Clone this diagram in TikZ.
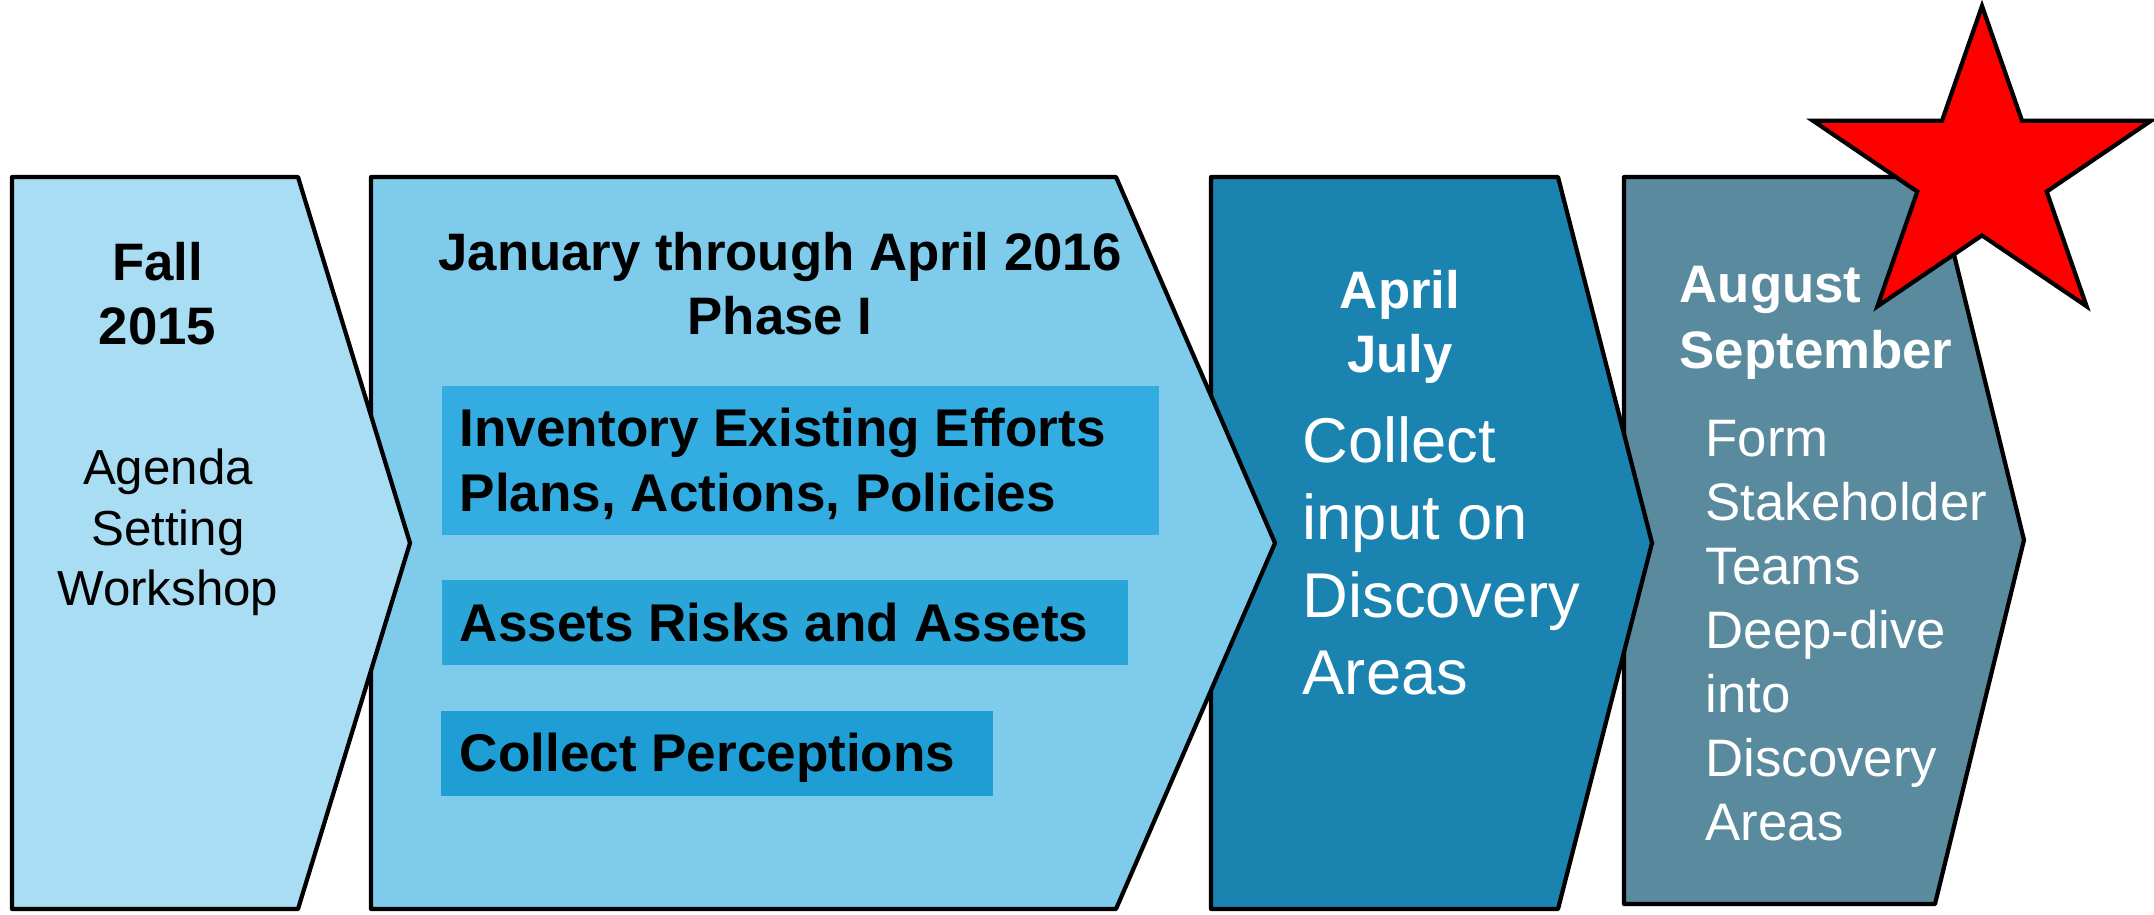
\documentclass[tikz,border=0pt]{standalone}
\usepackage{fontspec}
\setmainfont{Liberation Sans}
\definecolor{stageA}{HTML}{A9DDF3}
\definecolor{stageB}{HTML}{7FCBEC}
\definecolor{stageC}{HTML}{1A83B0}
\definecolor{stageD}{HTML}{5A8A9E}
\definecolor{boxA}{HTML}{33ADE1}
\definecolor{boxB}{HTML}{29A5D8}
\definecolor{boxC}{HTML}{1E9ED5}
\definecolor{starred}{HTML}{FF0000}
\tikzset{
  stage/.style={draw=black, line width=1.2pt, line join=round},
  headtxt/.style={font=\bfseries\fontsize{15}{18.2}\selectfont, inner sep=0pt, align=center},
  agtxt/.style={font=\fontsize{14}{17.1}\selectfont, inner sep=0pt, align=center},
  boxtxt/.style={font=\bfseries\fontsize{15.1}{18.35}\selectfont, inner sep=0pt, align=left},
  bigtxt/.style={font=\fontsize{18}{21.9}\selectfont, inner sep=0pt, align=left, text=white},
  formtxt/.style={font=\fontsize{15}{18.2}\selectfont, inner sep=0pt, align=left, text=white}
}
\begin{document}
\begin{tikzpicture}[x=0.01cm,y=-0.01cm]
\useasboundingbox (0,0) rectangle (2154,914);
% stages, drawn right to left so each point lies over the next stage
\path[stage, fill=stageD] (1624,177) -- (1935,177) -- (2024,540) -- (1935,904) -- (1624,904) -- cycle;
\path[stage, fill=stageC] (1211,177) -- (1558,177) -- (1652,543) -- (1558,909) -- (1211,909) -- cycle;
\path[stage, fill=stageB] (371,177) -- (1116,177) -- (1275,543) -- (1116,909) -- (371,909) -- cycle;
\path[stage, fill=stageA] (12,177) -- (298,177) -- (410,543) -- (298,909) -- (12,909) -- cycle;
% inner boxes
\fill[boxA] (442,386) rectangle (1159,535);
\fill[boxB] (442,580) rectangle (1128,665);
\fill[boxC] (441,711) rectangle (993,796);
% texts (anchor=base is the baseline of the last line)
\node[headtxt, anchor=base] (fall) at (157.5,344.6) {Fall\\2015};
\node[agtxt, anchor=base] (agenda) at (168,605.2) {Agenda\\Setting\\Workshop};
\node[headtxt, anchor=base] (jan) at (780,334) {January through April 2016\\Phase I};
\node[boxtxt, anchor=base west] (inv) at (459,511.5) {Inventory Existing Efforts\\Plans, Actions, Policies};
\node[boxtxt, anchor=base west] (risk) at (459,641) {Assets Risks and Assets};
\node[boxtxt, anchor=base west] (perc) at (459,771) {Collect Perceptions};
\node[headtxt, text=white, anchor=base] (apr) at (1400,372) {April\\July};
\node[bigtxt, anchor=base west] (coll) at (1302,694) {Collect\\input on\\Discovery\\Areas};
\node[headtxt, font=\bfseries\fontsize{15}{18.5}\selectfont, text=white, align=left, anchor=base west] (aug) at (1679,368) {August\\September};
\node[formtxt, anchor=base west] (form) at (1705,840) {Form\\Stakeholder\\Teams\\Deep-dive\\into\\Discovery\\Areas};
% star
\path[draw=black, line width=1.2pt, fill=starred, line join=miter]
  (1982,6) -- (2022,120.7) -- (2151,120.7) -- (2046.7,191.6) -- (2086.6,306.3)
  -- (1982,235.4) -- (1877.4,306.3) -- (1917.3,191.6) -- (1813,120.7) -- (1942,120.7) -- cycle;
\end{tikzpicture}
\end{document}
